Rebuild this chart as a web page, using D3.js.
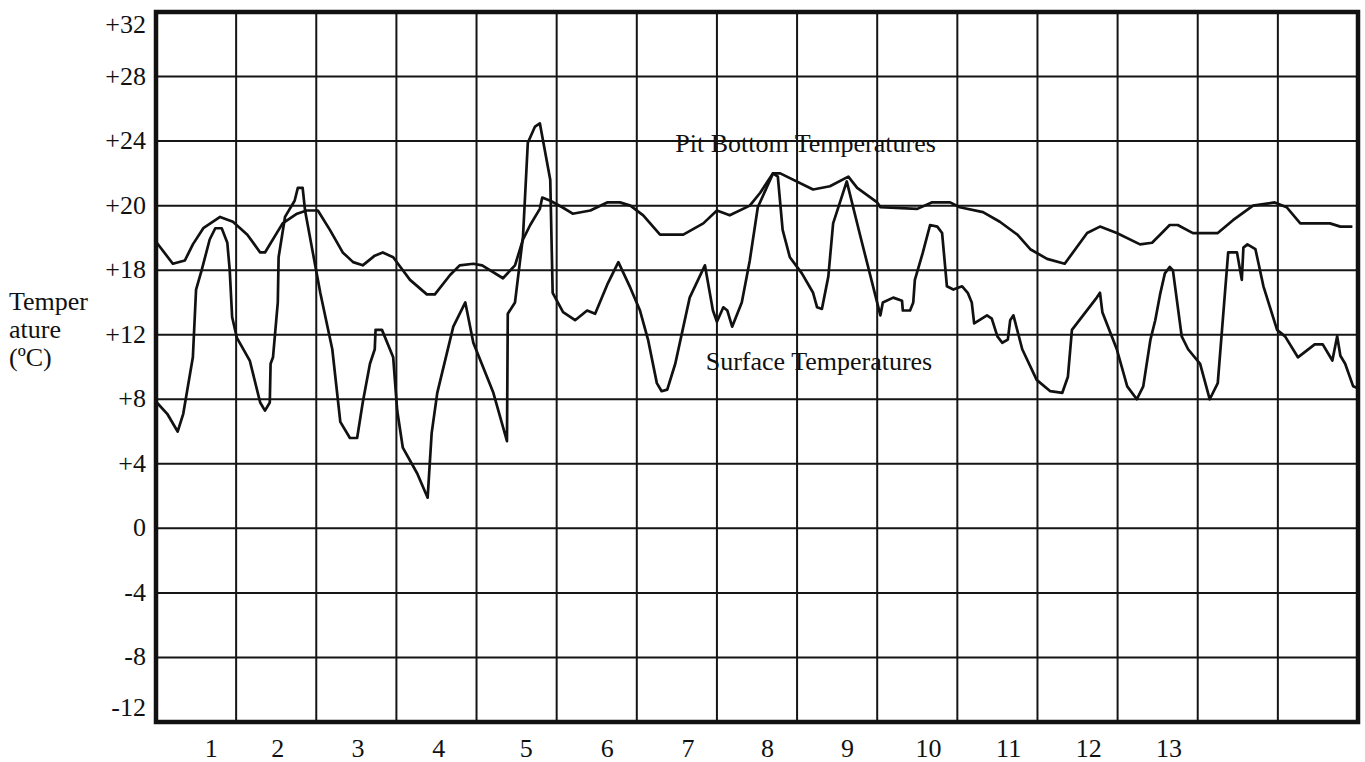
<!DOCTYPE html>
<html>
<head>
<meta charset="utf-8">
<script src="https://cdn.jsdelivr.net/npm/d3@7"></script>
<style>
    body { margin: 0; background: #fff; }
    text { font-family: "Liberation Serif", "Times New Roman", serif; fill: #111; }
</style>
</head>
<body>
<div id="chart"></div>
<script>
// x runs in grid columns (0..15), temperatures in the chart's own units
const pitDays = [0.01, 0.21, 0.36, 0.46, 0.59, 0.80, 0.96, 1.14, 1.30, 1.36,
    1.58, 1.76, 1.88, 2.02, 2.17, 2.33, 2.46, 2.58, 2.73, 2.83,
    2.96, 3.05, 3.17, 3.38, 3.48, 3.67, 3.79, 3.96, 4.07, 4.33,
    4.48, 4.58, 4.67, 4.79, 4.82, 4.92, 5.07, 5.20, 5.42, 5.63,
    5.79, 5.92, 6.08, 6.29, 6.58, 6.83, 7.00, 7.16, 7.41, 7.54,
    7.70, 7.79, 8.20, 8.41, 8.64, 8.75, 9.00, 9.04, 9.50, 9.68,
    9.91, 10.03, 10.32, 10.53, 10.75, 10.91, 11.12, 11.34, 11.62, 11.78,
    11.99, 12.28, 12.43, 12.53, 12.65, 12.75, 12.94, 13.25, 13.44, 13.69,
    13.96, 14.11, 14.28, 14.65, 14.78, 14.93];
const pitTemps = [17.7, 16.4, 16.6, 17.6, 18.6, 19.3, 19.0, 18.2, 17.1, 17.1,
    18.9, 19.5, 19.7, 19.7, 18.5, 17.1, 16.5, 16.3, 16.9, 17.1,
    16.8, 16.2, 15.4, 14.5, 14.5, 15.7, 16.3, 16.4, 16.3, 15.5,
    16.3, 17.9, 18.8, 19.8, 20.5, 20.3, 19.9, 19.5, 19.7, 20.2,
    20.2, 20.0, 19.4, 18.2, 18.2, 18.9, 19.7, 19.4, 20.0, 20.8,
    22.0, 22.0, 21.0, 21.2, 21.8, 21.1, 20.2, 19.9, 19.8, 20.2,
    20.2, 19.9, 19.6, 19.0, 18.2, 17.3, 16.7, 16.4, 18.3, 18.7,
    18.3, 17.6, 17.7, 18.2, 18.8, 18.8, 18.3, 18.3, 19.1, 20.0,
    20.2, 19.9, 18.9, 18.9, 18.7, 18.7];

const surfaceDays = [0.01, 0.14, 0.27, 0.34, 0.46, 0.50, 0.57, 0.67, 0.74, 0.82,
    0.89, 0.92, 0.95, 1.01, 1.17, 1.30, 1.36, 1.42, 1.43, 1.46,
    1.52, 1.53, 1.61, 1.73, 1.77, 1.83, 1.86, 2.05, 2.20, 2.30,
    2.42, 2.51, 2.58, 2.67, 2.73, 2.74, 2.82, 2.96, 3.01, 3.08,
    3.26, 3.39, 3.44, 3.51, 3.71, 3.86, 3.96, 4.21, 4.38, 4.39,
    4.48, 4.58, 4.64, 4.73, 4.79, 4.92, 4.95, 5.08, 5.23, 5.38,
    5.48, 5.64, 5.77, 5.92, 6.04, 6.14, 6.25, 6.31, 6.38, 6.48,
    6.66, 6.85, 6.95, 7.00, 7.08, 7.13, 7.19, 7.31, 7.41, 7.51,
    7.70, 7.76, 7.82, 7.91, 8.06, 8.20, 8.25, 8.31, 8.39, 8.45,
    8.62, 8.79, 9.04, 9.07, 9.20, 9.31, 9.32, 9.41, 9.45, 9.47,
    9.57, 9.66, 9.75, 9.81, 9.87, 9.95, 10.06, 10.13, 10.18, 10.21,
    10.37, 10.43, 10.50, 10.56, 10.63, 10.66, 10.70, 10.81, 10.99, 11.16,
    11.31, 11.38, 11.43, 11.74, 11.78, 11.81, 11.99, 12.12, 12.24, 12.32,
    12.41, 12.47, 12.53, 12.59, 12.65, 12.69, 12.80, 12.88, 13.03, 13.15,
    13.25, 13.38, 13.49, 13.55, 13.57, 13.62, 13.72, 13.82, 13.99, 14.09,
    14.25, 14.46, 14.56, 14.68, 14.74, 14.78, 14.84, 14.94, 14.99];
const surfaceTemps = [7.8, 7.1, 6.0, 7.1, 10.6, 14.8, 16.0, 17.9, 18.6, 18.6,
    17.7, 16.0, 13.1, 11.8, 10.4, 7.8, 7.3, 7.8, 10.2, 10.6,
    14.0, 16.8, 19.3, 20.3, 21.1, 21.1, 19.7, 14.6, 11.1, 6.6,
    5.6, 5.6, 7.8, 10.2, 11.1, 12.3, 12.3, 10.6, 7.3, 5.0,
    3.4, 1.9, 5.9, 8.4, 12.5, 14.0, 11.5, 8.4, 5.4, 13.3,
    14.0, 18.1, 23.9, 24.9, 25.1, 21.6, 14.6, 13.4, 12.9, 13.5,
    13.3, 15.2, 16.5, 14.9, 13.5, 11.7, 9.0, 8.5, 8.6, 10.2,
    14.3, 16.3, 13.5, 12.8, 13.7, 13.5, 12.5, 14.0, 16.6, 19.9,
    22.0, 21.8, 18.5, 16.8, 15.8, 14.6, 13.7, 13.6, 15.6, 18.9,
    21.5, 18.1, 13.2, 14.0, 14.3, 14.1, 13.5, 13.5, 14.0, 15.4,
    17.1, 18.8, 18.7, 18.3, 15.0, 14.8, 15.0, 14.6, 14.0, 12.7,
    13.2, 13.0, 11.9, 11.5, 11.7, 12.9, 13.2, 11.1, 9.2, 8.5,
    8.4, 9.4, 12.3, 14.3, 14.6, 13.4, 11.1, 8.8, 8.0, 8.8,
    11.7, 12.9, 14.5, 15.8, 16.2, 16.0, 11.9, 11.1, 10.2, 8.0,
    9.0, 17.1, 17.1, 15.4, 17.4, 17.6, 17.3, 15.0, 12.3, 11.9,
    10.6, 11.4, 11.4, 10.4, 11.9, 10.7, 10.2, 8.8, 8.7];

const yTickValues = [32, 28, 24, 20, 16, 12, 8, 4, 0, -4, -8, -12];
const yTickLabels = ["+32", "+28", "+24", "+20", "+18", "+12", "+8", "+4", "0", "-4", "-8", "-12"];
const xTickValues = [0.69, 1.52, 2.52, 3.53, 4.62, 5.63, 6.64, 7.63, 8.63, 9.64, 10.64, 11.64, 12.64];
const xTickLabels = ["1", "2", "3", "4", "5", "6", "7", "8", "9", "10", "11", "12", "13"];
const yTitleLines = ["Temper", "ature", "(ºC)"];
const seriesNames = ["Pit Bottom Temperatures", "Surface Temperatures"];

const width = 1365, height = 762;
const plotLeft = 156, plotRight = 1358, plotTop = 12, plotBottom = 722;
const fontSize = 26;

let x = d3.scaleLinear().domain([0, 15]).range([plotLeft, plotRight]);
let y = d3.scaleLinear().domain([-12, 32]).range([plotBottom, plotTop]);

let svg = d3.select("#chart").append("svg")
    .attr("width", width)
    .attr("height", height);

svg.append("rect")
    .attr("width", width)
    .attr("height", height)
    .attr("fill", "#fff");

let g_grid = svg.append("g")
    .attr("stroke", "#151515")
    .attr("stroke-width", 2);

// vertical grid, one per column
g_grid.selectAll("line.v")
    .data(d3.range(1, 15))
    .enter()
    .append("line")
    .attr("class", "v")
    .attr("x1", function (d) { return x(d); })
    .attr("x2", function (d) { return x(d); })
    .attr("y1", plotTop)
    .attr("y2", plotBottom);

g_grid.selectAll("line.h")
    .data(yTickValues.slice(1, -1))
    .enter()
    .append("line")
    .attr("class", "h")
    .attr("x1", plotLeft)
    .attr("x2", plotRight)
    .attr("y1", function (d) { return y(d); })
    .attr("y2", function (d) { return y(d); });

svg.append("rect")
    .attr("x", plotLeft)
    .attr("y", plotTop)
    .attr("width", plotRight - plotLeft)
    .attr("height", plotBottom - plotTop)
    .attr("fill", "none")
    .attr("stroke", "#111")
    .attr("stroke-width", 4.5);

let line = d3.line()
    .x(function (d) { return x(d[0]); })
    .y(function (d) { return y(d[1]); });

let pitPoints = pitDays.map(function (d, i) { return [d, pitTemps[i]]; });
let surfacePoints = surfaceDays.map(function (d, i) { return [d, surfaceTemps[i]]; });

svg.selectAll("path.series")
    .data([pitPoints, surfacePoints])
    .enter()
    .append("path")
    .attr("class", "series")
    .attr("d", line)
    .attr("fill", "none")
    .attr("stroke", "#111")
    .attr("stroke-width", 2.7)
    .attr("stroke-linejoin", "round");

// y tick labels, the end ones pulled inside the frame
svg.append("g").selectAll("text")
    .data(yTickValues)
    .enter()
    .append("text")
    .attr("x", 146)
    .attr("y", function (d) {
        let cy = Math.min(Math.max(y(d), plotTop + 13), plotBottom - 14);
        return cy + 8;
    })
    .attr("text-anchor", "end")
    .style("font-size", fontSize + "px")
    .text(function (d, i) { return yTickLabels[i]; });

svg.append("g").selectAll("text")
    .data(xTickValues)
    .enter()
    .append("text")
    .attr("x", function (d) { return x(d); })
    .attr("y", 757)
    .attr("text-anchor", "middle")
    .style("font-size", fontSize + "px")
    .text(function (d, i) { return xTickLabels[i]; });

svg.append("g").selectAll("text")
    .data(yTitleLines)
    .enter()
    .append("text")
    .attr("x", 9)
    .attr("y", function (d, i) { return 310 + i * 28; })
    .style("font-size", fontSize + "px")
    .text(function (d) { return d; });

svg.append("text")
    .attr("x", x(6.48))
    .attr("y", y(23.3))
    .style("font-size", fontSize + "px")
    .text(seriesNames[0]);

svg.append("text")
    .attr("x", x(6.86))
    .attr("y", y(9.8))
    .style("font-size", fontSize + "px")
    .text(seriesNames[1]);
</script>
</body>
</html>
